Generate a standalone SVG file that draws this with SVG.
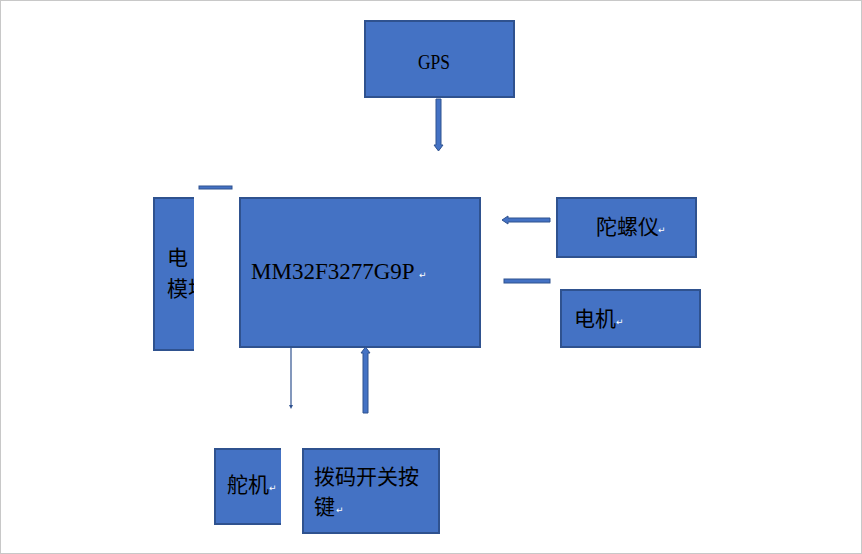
<svg xmlns="http://www.w3.org/2000/svg" width="862" height="554" viewBox="0 0 862 554">
<style>
.box{fill:#4472C4;stroke:#2F528F;stroke-width:2}
.arr{fill:#4472C4;stroke:#2F528F;stroke-width:1}
.cn{font-family:"Noto Sans CJK SC","Noto Sans CJK JP",sans-serif;font-size:21px;fill:#000}
.ret{font-family:"DejaVu Sans",sans-serif;font-size:9px;fill:#fff}
</style>
<rect x="0.5" y="0.5" width="861" height="553" fill="#fff" stroke="#C8C8C8"/>
<g id="gps"><rect class="box" x="365" y="21" width="149" height="76"/>
<text x="418" y="69" font-family="Liberation Serif,serif" font-size="21" fill="#000" textLength="32" lengthAdjust="spacingAndGlyphs">GPS</text></g>
<g id="mcu"><rect class="box" x="240" y="198" width="240" height="149"/>
<text x="251" y="279" font-family="Liberation Serif,serif" font-size="23" fill="#000">MM32F3277G9P</text>
<text class="ret" x="419" y="278">↵</text></g>
<g id="power"><rect class="box" x="154" y="198" width="60" height="152"/>
<text class="cn" x="167" y="265">电</text>
<text class="cn" x="167" y="296">模块</text>
<rect x="194" y="180" width="44" height="178" fill="#fff"/></g>
<g id="gyro"><rect class="box" x="557" y="198" width="139" height="59"/>
<text class="cn" x="596" y="234">陀螺仪</text><text class="ret" x="658" y="233">↵</text></g>
<g id="motor"><rect class="box" x="561" y="290" width="139" height="57"/>
<text class="cn" x="574" y="326">电机</text><text class="ret" x="616" y="325">↵</text></g>
<g id="servo"><rect class="box" x="215" y="449" width="80" height="75"/>
<rect x="281" y="440" width="20" height="90" fill="#fff"/>
<text class="cn" x="227" y="492">舵机</text><text class="ret" x="269" y="491">↵</text></g>
<g id="switch"><rect class="box" x="303" y="449" width="136" height="84"/>
<text class="cn" x="314" y="484" font-size="22">拨码开关按</text>
<text class="cn" x="314" y="514" font-size="22">键</text><text class="ret" x="336" y="513">↵</text></g>
<g id="connectors">
<polygon class="arr" points="436,99 441,99 441,145 443,145 438.5,151 434,145 436,145"/>
<polygon class="arr" points="550,218 508,218 508,216 502,220 508,224 508,222 550,222"/>
<rect class="arr" x="504" y="279" width="46" height="4"/>
<rect class="arr" x="199" y="186" width="33" height="3"/>
<line x1="291" y1="347" x2="291" y2="407" stroke="#2F528F" stroke-width="1.2"/>
<polygon points="289,405 293,405 291,409" fill="#2F528F"/>
<polygon class="arr" points="363,413 368,413 368,353 370,353 365.5,347 361,353 363,353"/>
</g>
</svg>
